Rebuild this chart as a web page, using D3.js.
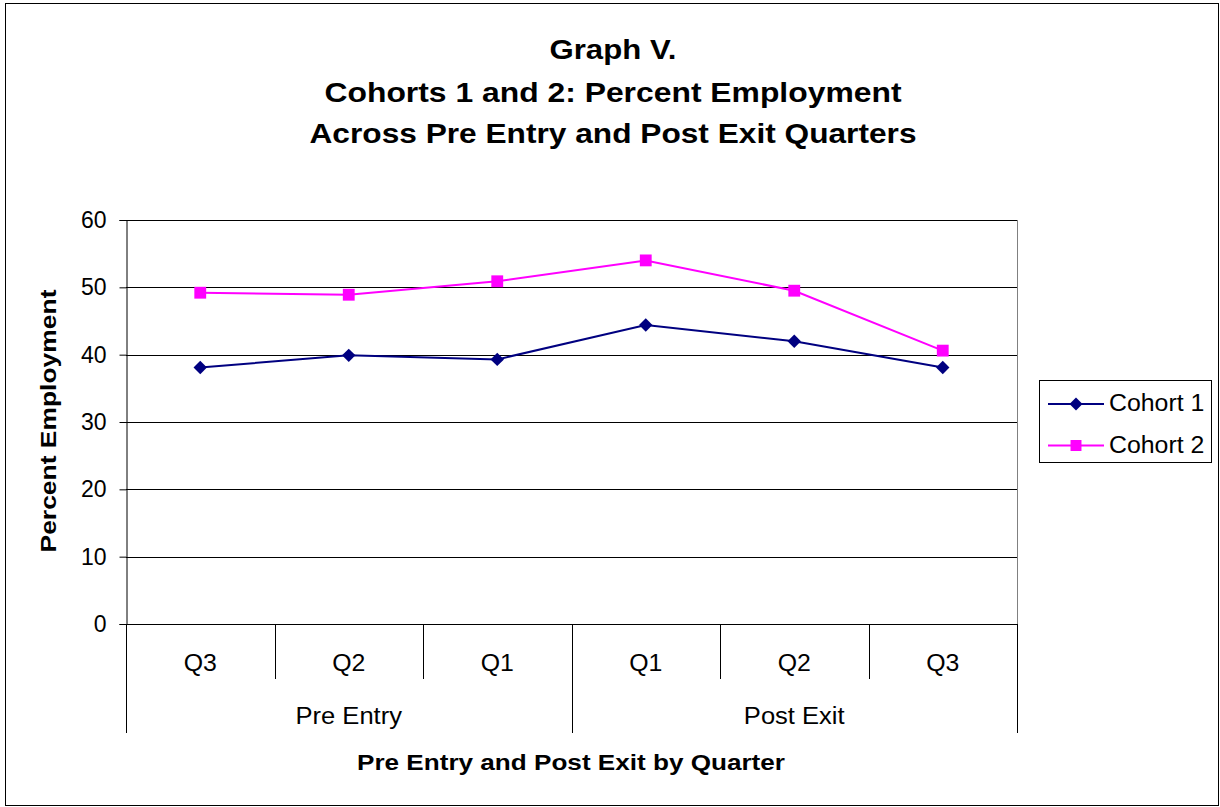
<!DOCTYPE html>
<html>
<head>
<meta charset="utf-8">
<script src="https://cdn.jsdelivr.net/npm/d3@7"></script>
<style>
  html, body { margin: 0; padding: 0; background: #fff; }
  svg { display: block; }
  text { font-family: "Liberation Sans", Arial, sans-serif; fill: #000; }
</style>
</head>
<body>
<svg id="chart" width="1220" height="807"></svg>
<script>
// Quarters on the category axis and the group each belongs to
const quarters = ["Q3", "Q2", "Q1", "Q1", "Q2", "Q3"];
const groups = ["Pre Entry", "Pre Entry", "Pre Entry", "Post Exit", "Post Exit", "Post Exit"];
const groupNames = ["Pre Entry", "Post Exit"];

// Percent employment per quarter
const cohort1 = [38.1, 39.9, 39.3, 44.4, 42.0, 38.1];
const cohort2 = [49.2, 48.9, 50.9, 54.0, 49.5, 40.6];

const seriesNames = ["Cohort 1", "Cohort 2"];
const yTicks = [0, 10, 20, 30, 40, 50, 60];

const titleLines = [
  "Graph V.",
  "Cohorts 1 and 2: Percent Employment",
  "Across Pre Entry and Post Exit Quarters"
];

const svg = d3.select("#chart");

// widen text horizontally by a given factor (or to an exact width)
function stretch(sel, factor, width) {
  sel.each(function () {
    const w = width != null ? width : this.getComputedTextLength() * factor;
    d3.select(this).attr("textLength", w).attr("lengthAdjust", "spacingAndGlyphs");
  });
}

// diamond drawn as a square turned 45 degrees
const diamond = {
  draw(ctx, size) {
    const r = Math.sqrt(size) / 2;
    ctx.moveTo(0, -r); ctx.lineTo(r, 0); ctx.lineTo(0, r); ctx.lineTo(-r, 0); ctx.closePath();
  }
};

// outer frame
svg.append("rect")
  .attr("x", 5.5).attr("y", 3.5)
  .attr("width", 1213).attr("height", 802)
  .attr("fill", "#fff").attr("stroke", "#000").attr("stroke-width", 1);

const plot = { left: 126, right: 1017, top: 220, bottom: 624 };

const x = d3.scaleBand()
  .domain(d3.range(quarters.length))
  .range([plot.left, plot.right])
  .padding(0);

const y = d3.scaleLinear()
  .domain([0, 60])
  .range([plot.bottom, plot.top]);

// horizontal gridlines
svg.append("g")
  .selectAll("line")
  .data(yTicks.filter(d => d > 0))
  .join("line")
  .attr("x1", plot.left).attr("x2", plot.right)
  .attr("y1", d => Math.round(y(d)) + 0.5).attr("y2", d => Math.round(y(d)) + 0.5)
  .attr("stroke", "#000").attr("stroke-width", 1);

// plot area right border
svg.append("line")
  .attr("x1", plot.right + 0.5).attr("x2", plot.right + 0.5)
  .attr("y1", plot.top).attr("y2", plot.bottom)
  .attr("stroke", "#808080").attr("stroke-width", 1);

// y axis
const yAxis = d3.axisLeft(y).tickValues(yTicks).tickSize(7).tickPadding(13);
const yg = svg.append("g")
  .attr("transform", `translate(${plot.left + 0.5},0)`)
  .call(yAxis);
yg.select(".domain").attr("stroke", "#000");
yg.selectAll(".tick line").attr("stroke", "#000");
yg.selectAll(".tick text")
  .attr("font-size", 23)
  .attr("fill", "#000")
  .attr("font-family", "Liberation Sans, Arial, sans-serif");

// category axis baseline
svg.append("line")
  .attr("x1", plot.left).attr("x2", plot.right)
  .attr("y1", plot.bottom + 0.5).attr("y2", plot.bottom + 0.5)
  .attr("stroke", "#000").attr("stroke-width", 1);

// separators between quarters, longer ones between groups
const qRowBottom = 679;
const gRowBottom = 733;
const boundaries = d3.range(quarters.length + 1).map(i =>
  i < quarters.length ? x(i) : x(quarters.length - 1) + x.bandwidth());
svg.append("g")
  .selectAll("line")
  .data(boundaries)
  .join("line")
  .attr("x1", d => Math.round(d) + 0.5).attr("x2", d => Math.round(d) + 0.5)
  .attr("y1", plot.bottom)
  .attr("y2", (d, i) => (i === 0 || i === boundaries.length - 1 || groups[i] !== groups[i - 1]) ? gRowBottom : qRowBottom)
  .attr("stroke", "#000").attr("stroke-width", 1);

// quarter labels
svg.append("g")
  .selectAll("text")
  .data(quarters)
  .join("text")
  .attr("x", (d, i) => x(i) + x.bandwidth() / 2)
  .attr("y", 671)
  .attr("text-anchor", "middle")
  .attr("font-size", 23)
  .text(d => d)
  .call(stretch, 1.08);

// group labels
svg.append("g")
  .selectAll("text")
  .data(groupNames)
  .join("text")
  .attr("x", g => {
    const idx = groups.map((v, i) => v === g ? i : -1).filter(i => i >= 0);
    return (x(idx[0]) + x(idx[idx.length - 1]) + x.bandwidth()) / 2;
  })
  .attr("y", 724)
  .attr("text-anchor", "middle")
  .attr("font-size", 23)
  .text(d => d)
  .call(stretch, 1.11);

// series
const series = [
  { name: seriesNames[0], values: cohort1, color: "#000080", symbol: diamond, size: 180 },
  { name: seriesNames[1], values: cohort2, color: "#FF00FF", symbol: d3.symbolSquare, size: 140 }
];

const line = d3.line()
  .x((d, i) => x(i) + x.bandwidth() / 2)
  .y(d => y(d));

series.forEach(s => {
  svg.append("path")
    .datum(s.values)
    .attr("d", line)
    .attr("fill", "none")
    .attr("stroke", s.color)
    .attr("stroke-width", 2);
  svg.append("g")
    .selectAll("path")
    .data(s.values)
    .join("path")
    .attr("transform", (d, i) => `translate(${x(i) + x.bandwidth() / 2},${y(d)})`)
    .attr("d", d3.symbol().type(s.symbol).size(s.size))
    .attr("fill", s.color);
});

// titles
const titleWidths = [127, 577, 607];
const titleBase = [59, 102, 143];
svg.append("g")
  .selectAll("text")
  .data(titleLines)
  .join("text")
  .attr("x", 613)
  .attr("y", (d, i) => titleBase[i])
  .attr("text-anchor", "middle")
  .attr("font-size", 28.5)
  .attr("font-weight", "bold")
  .text(d => d)
  .each(function (d, i) { stretch(d3.select(this), null, titleWidths[i]); });

svg.append("text")
  .attr("transform", "translate(56,421) rotate(-90)")
  .attr("text-anchor", "middle")
  .attr("font-size", 22.5)
  .attr("font-weight", "bold")
  .text("Percent Employment")
  .call(stretch, null, 263);

svg.append("text")
  .attr("x", 571)
  .attr("y", 770)
  .attr("text-anchor", "middle")
  .attr("font-size", 22.5)
  .attr("font-weight", "bold")
  .text("Pre Entry and Post Exit by Quarter")
  .call(stretch, null, 428);

// legend
const legend = svg.append("g");
legend.append("rect")
  .attr("x", 1039.5).attr("y", 380.5)
  .attr("width", 172).attr("height", 82)
  .attr("fill", "#fff").attr("stroke", "#000").attr("stroke-width", 1);
series.forEach((s, i) => {
  const ly = 404 + i * 41.5;
  legend.append("line")
    .attr("x1", 1048).attr("x2", 1104)
    .attr("y1", ly).attr("y2", ly)
    .attr("stroke", s.color).attr("stroke-width", 2);
  legend.append("path")
    .attr("transform", `translate(1076,${ly})`)
    .attr("d", d3.symbol().type(s.symbol).size(s === series[0] ? 170 : 120))
    .attr("fill", s.color);
  legend.append("text")
    .attr("x", 1109).attr("y", ly + 7)
    .attr("font-size", 23)
    .text(s.name)
    .call(stretch, 1.08);
});
</script>
</body>
</html>
